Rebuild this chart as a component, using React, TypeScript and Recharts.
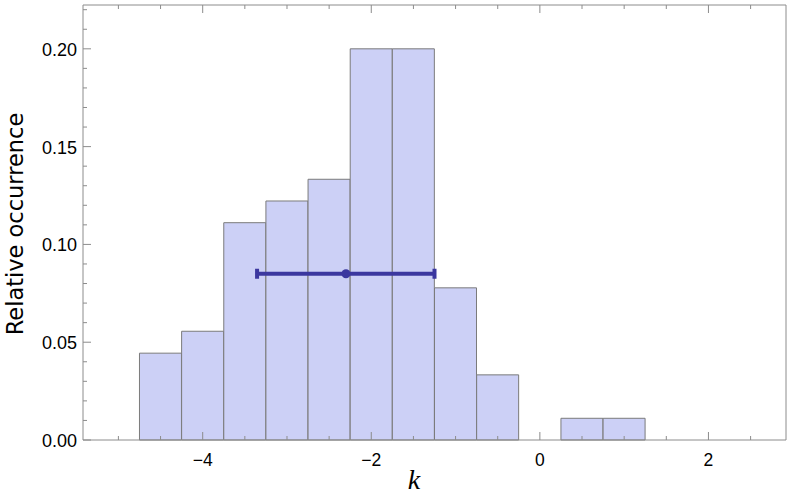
import React from 'react';
import { ComposedChart, Bar, Scatter, ErrorBar, XAxis, YAxis } from 'recharts';

// histogram of k, bins of width 0.5
const binCenters = [-4.5, -4.0, -3.5, -3.0, -2.5, -2.0, -1.5, -1.0, -0.5, 0.0, 0.5, 1.0];
const occurrence = [0.0444, 0.0556, 0.1111, 0.1222, 0.1333, 0.2, 0.2, 0.0778, 0.0333, 0, 0.0111, 0.0111];

// mean with spread
const meanK = -2.3;
const meanY = 0.085;
const spreadLow = -3.355;
const spreadHigh = -1.25;

const xTicks = [-5, -4.5, -4, -3.5, -3, -2.5, -2, -1.5, -1, -0.5, 0, 0.5, 1, 1.5, 2, 2.5];
const xMajor = [-4, -2, 0, 2];
const yTicks = [0, 0.01, 0.02, 0.03, 0.04, 0.05, 0.06, 0.07, 0.08, 0.09, 0.1, 0.11, 0.12, 0.13, 0.14, 0.15, 0.16, 0.17, 0.18, 0.19, 0.2, 0.21, 0.22];
const yMajor = [0, 0.05, 0.1, 0.15, 0.2];

const histData = binCenters.map((x, i) => ({ x, y: occurrence[i] }));
const meanData = [{ x: meanK, y: meanY, err: [meanK - spreadLow, spreadHigh - meanK] }];

const X_DOMAIN: [number, number] = [-5.42, 2.92];
const Y_DOMAIN: [number, number] = [0, 0.2224];

const FRAME = '#8c8c8c';
const TICK_FONT = '"Liberation Sans", Arial, sans-serif';

const isMajor = (list: number[], v: number) => list.some((m) => Math.abs(m - v) < 1e-9);
const fmtX = (v: number) => (v < 0 ? '\u2212' + Math.abs(v) : String(v));

function BottomTick(props: any) {
  const { x, y, payload } = props;
  const major = isMajor(xMajor, payload.value);
  return (
    <g>
      <line x1={x} y1={y} x2={x} y2={y - (major ? 8 : 4)} stroke={FRAME} />
      {major && (
        <text x={x} y={y + 26} textAnchor="middle" fontSize={17.5} fontFamily={TICK_FONT} fill="#000">
          {fmtX(payload.value)}
        </text>
      )}
    </g>
  );
}

function TopTick(props: any) {
  const { x, y, payload } = props;
  const major = isMajor(xMajor, payload.value);
  return <line x1={x} y1={y} x2={x} y2={y + (major ? 8 : 4)} stroke={FRAME} />;
}

function LeftTick(props: any) {
  const { x, y, payload } = props;
  const major = isMajor(yMajor, payload.value);
  return (
    <g>
      <line x1={x} y1={y} x2={x + (major ? 8 : 4)} y2={y} stroke={FRAME} />
      {major && (
        <text x={x - 6} y={y + 7} textAnchor="end" fontSize={18} fontFamily={TICK_FONT} fill="#000">
          {payload.value.toFixed(2)}
        </text>
      )}
    </g>
  );
}

function RightTick(props: any) {
  const { x, y, payload } = props;
  const major = isMajor(yMajor, payload.value);
  return <line x1={x} y1={y} x2={x - (major ? 8 : 4)} y2={y} stroke={FRAME} />;
}

export default function App() {
  return (
    <div style={{ position: 'absolute', left: 0, top: 0, background: '#fff' }}>
      <ComposedChart
        width={789}
        height={494}
        data={histData}
        margin={{ top: 4, right: 2, bottom: 0, left: 0 }}
        barCategoryGap={0}
        barGap={0}
      >
        <Bar dataKey="y" fill="#ccd0f6" stroke="#7b7b7b" strokeWidth={1} isAnimationActive={false} />
        <XAxis
          dataKey="x"
          type="number"
          domain={X_DOMAIN}
          ticks={xTicks}
          interval={0}
          height={54}
          tickSize={0}
          tickMargin={0}
          tickLine={false}
          tick={BottomTick}
          axisLine={{ stroke: FRAME }}
          label={() => (
            <text
              x={414}
              y={489}
              textAnchor="middle"
              fontSize={28}
              fontStyle="italic"
              fontFamily='"Liberation Serif", "Times New Roman", serif'
            >
              k
            </text>
          )}
        />
        <XAxis
          xAxisId="top"
          orientation="top"
          dataKey="x"
          type="number"
          domain={X_DOMAIN}
          ticks={xTicks}
          interval={0}
          height={1}
          tickSize={0}
          tickMargin={0}
          tickLine={false}
          tick={TopTick}
          axisLine={{ stroke: FRAME }}
        />
        <XAxis xAxisId="e" dataKey="x" type="number" domain={X_DOMAIN} hide />
        <YAxis
          type="number"
          domain={Y_DOMAIN}
          ticks={yTicks}
          interval={0}
          width={83}
          tickSize={0}
          tickMargin={0}
          tickLine={false}
          tick={LeftTick}
          axisLine={{ stroke: FRAME }}
          label={() => (
            <text
              x={23}
              y={224}
              transform="rotate(-90 23 224)"
              textAnchor="middle"
              fontSize={22.5}
              fontFamily='"DejaVu Sans", sans-serif'
            >
              Relative occurrence
            </text>
          )}
        />
        <YAxis
          yAxisId="right"
          orientation="right"
          type="number"
          domain={Y_DOMAIN}
          ticks={yTicks}
          interval={0}
          width={1}
          tickSize={0}
          tickMargin={0}
          tickLine={false}
          tick={RightTick}
          axisLine={{ stroke: FRAME }}
        />
        <Scatter xAxisId="e" data={meanData} dataKey="y" fill="#3b379f" isAnimationActive={false}>
          <ErrorBar dataKey="err" direction="x" width={5} strokeWidth={4} stroke="#3b379f" />
        </Scatter>
      </ComposedChart>
    </div>
  );
}
